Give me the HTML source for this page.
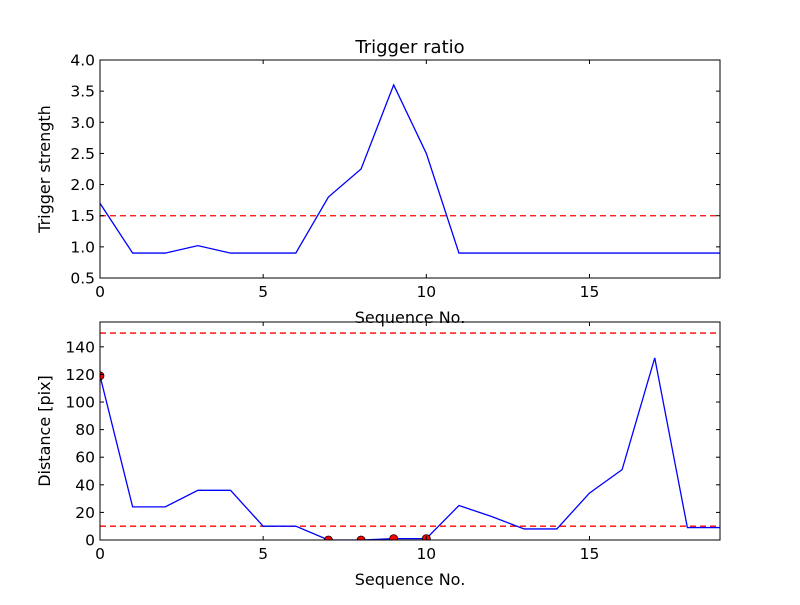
<!DOCTYPE html>
<html><head><meta charset="utf-8"><style>body{margin:0;background:#fff}svg{font-family:"DejaVu Sans","Liberation Sans",sans-serif}</style></head>
<body><svg id="c" width="800" height="600"></svg>
<script>
const seq=[0,1,2,3,4,5,6,7,8,9,10,11,12,13,14,15,16,17,18,19];
const strength=[1.7,0.9,0.9,1.02,0.9,0.9,0.9,1.8,2.25,3.6,2.5,0.9,0.9,0.9,0.9,0.9,0.9,0.9,0.9,0.9];
const strengthThresh=1.5;
const distance=[119,24,24,36,36,10,10,0,0,1,1,25,17,8,8,34,51,132,9,9];
const distThresh=[10,150];
const markedIdx=[0,7,8,9,10];
const xTicks=[0,5,10,15];
const yTicksTop=[0.5,1.0,1.5,2.0,2.5,3.0,3.5,4.0];
const yTicksBot=[0,20,40,60,80,100,120,140];
const svg=document.getElementById('c');const NS='http://www.w3.org/2000/svg';
function el(t,a,txt){const e=document.createElementNS(NS,t);for(const k in a)e.setAttribute(k,a[k]);if(txt!==undefined)e.textContent=txt;svg.appendChild(e);return e;}
function panel(name,L,T,R,B,ymin,ymax,yt,fmt,ylabel,title){
 const sx=v=>L+(v-0)/19*(R-L), sy=v=>B-(v-ymin)/(ymax-ymin)*(B-T);
 const clipId='clip-'+name;
 const cp=el('clipPath',{id:clipId});const r=document.createElementNS(NS,'rect');r.setAttribute('x',L);r.setAttribute('y',T);r.setAttribute('width',R-L);r.setAttribute('height',B-T);cp.appendChild(r);
 return {sx,sy,clipId,draw(){
  xTicks.forEach(v=>{const x=sx(v);const t=el('line',{x1:x,x2:x,y1:B,y2:B-4,stroke:'#000'});el('line',{x1:x,x2:x,y1:T,y2:T+4,stroke:'#000'});
   const l=el('text',{x:x,y:B+19,'text-anchor':'middle','font-size':15.5},v);});
  yt.forEach(v=>{const y=sy(v);el('line',{x1:L,x2:L+4,y1:y,y2:y,stroke:'#000'});el('line',{x1:R,x2:R-4,y1:y,y2:y,stroke:'#000'});
   const l=el('text',{x:L-5,y:y+5.5,'text-anchor':'end','font-size':15.5},fmt(v));});
  const f=el('rect',{x:L,y:T,width:R-L,height:B-T,fill:'none',stroke:'#000'});
  const xl=el('text',{x:(L+R)/2,y:B+45,'text-anchor':'middle','font-size':16},'Sequence No.');
  const yl=el('text',{x:0,y:0,'text-anchor':'middle','font-size':16,transform:`translate(${L-50},${(T+B)/2}) rotate(-90)`},ylabel);
  if(title){const tt=el('text',{x:(L+R)/2,y:T-7,'text-anchor':'middle','font-size':18},title);}
 }};
}
const p1=panel('top',100,60,720,278,0.5,4.0,yTicksTop,v=>v.toFixed(1),'Trigger strength','Trigger ratio');
let h=el('line',{x1:100,x2:720,y1:p1.sy(strengthThresh),y2:p1.sy(strengthThresh),stroke:'red','stroke-dasharray':'6,4','stroke-width':1.3});

let pl=el('polyline',{points:seq.map((s,i)=>p1.sx(s)+','+p1.sy(strength[i])).join(' '),fill:'none',stroke:'blue','stroke-width':1.3,'clip-path':'url(#'+p1.clipId+')'});

p1.draw();
const p2=panel('bottom',100,322,720,540,0,158,yTicksBot,v=>v,'Distance [pix]');
distThresh.forEach(t=>{const l=el('line',{x1:100,x2:720,y1:p2.sy(t),y2:p2.sy(t),stroke:'red','stroke-dasharray':'6,4','stroke-width':1.3});});
pl=el('polyline',{points:seq.map((s,i)=>p2.sx(s)+','+p2.sy(distance[i])).join(' '),fill:'none',stroke:'blue','stroke-width':1.3,'clip-path':'url(#'+p2.clipId+')'});

markedIdx.forEach(i=>{const c=el('circle',{cx:p2.sx(seq[i]),cy:p2.sy(distance[i]),r:4,fill:'red',stroke:'#000','stroke-width':0.8,'clip-path':'url(#'+p2.clipId+')'});});
p2.draw();
</script></body></html>
